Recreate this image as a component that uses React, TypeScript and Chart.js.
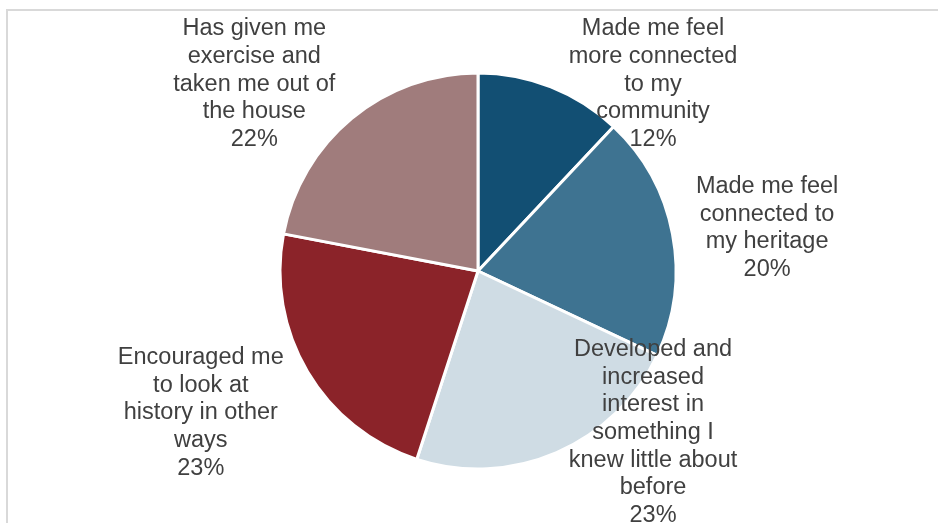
import React, { useEffect, useRef } from "react";
import { Chart, registerables } from "chart.js";

Chart.register(...registerables);

const categories: string[][] = [
  ["Made me feel", "more connected", "to my", "community"],
  ["Made me feel", "connected to", "my heritage"],
  ["Developed and", "increased", "interest in", "something I", "knew little about", "before"],
  ["Encouraged me", "to look at", "history in other", "ways"],
  ["Has given me", "exercise and", "taken me out of", "the house"],
];
const values: number[] = [12, 20, 23, 23, 22];
const colors: string[] = ["#124F73", "#3E7391", "#CFDCE4", "#8B2329", "#A07C7C"];
// label anchor offsets relative to the pie centre, in units of the radius
const labelOffsetX: number[] = [0.884, 1.46, 0.884, -1.4, -1.13];
const labelOffsetY: number[] = [-0.944, -0.217, 0.816, 0.717, -0.944];

const labelPlugin = {
  id: "sliceLabels",
  afterDraw(chart: any) {
    const meta = chart.getDatasetMeta(0);
    const ctx = chart.ctx;
    const total = values.reduce((a, b) => a + b, 0);
    ctx.save();
    ctx.font = '23.5px "Liberation Sans", Arial, sans-serif';
    ctx.fillStyle = "#404040";
    ctx.textAlign = "center";
    ctx.textBaseline = "middle";
    const lh = 27.6;
    meta.data.forEach((arc: any, i: number) => {
      const { x, y, outerRadius } = arc.getProps(["x", "y", "outerRadius"], true);
      const cx = x + labelOffsetX[i] * outerRadius;
      const cy = y + labelOffsetY[i] * outerRadius;
      const lines = [...categories[i], Math.round((values[i] / total) * 100) + "%"];
      const top = cy - ((lines.length - 1) * lh) / 2;
      lines.forEach((t, k) => ctx.fillText(t, cx, top + k * lh));
    });
    ctx.restore();
  },
};

export default function App() {
  const ref = useRef<HTMLCanvasElement | null>(null);
  useEffect(() => {
    if (!ref.current) return;
    const chart = new Chart(ref.current, {
      type: "pie",
      data: {
        labels: categories.map((c) => c.join(" ")),
        datasets: [
          {
            data: values,
            backgroundColor: colors,
            borderColor: "#FFFFFF",
            borderWidth: 3,
            radius: 198,
          },
        ],
      },
      options: {
        responsive: false,
        animation: false,
        layout: { padding: { left: 180, right: 162, top: 19, bottom: 0 } },
        plugins: {
          legend: { display: false },
          tooltip: { enabled: false },
        },
      },
      plugins: [labelPlugin],
    });
    return () => chart.destroy();
  }, []);
  return (
    <div style={{ position: "fixed", left: 0, top: 0, width: 938, height: 523, overflow: "hidden", background: "#fff" }}>
      <div
        style={{
          position: "absolute",
          left: 6,
          top: 9,
          width: 1000,
          height: 1000,
          border: "2px solid #D9D9D9",
          boxSizing: "border-box",
        }}
      />
      <canvas ref={ref} width={938} height={523} style={{ position: "absolute", left: 0, top: 0, width: 938, height: 523 }} />
    </div>
  );
}
